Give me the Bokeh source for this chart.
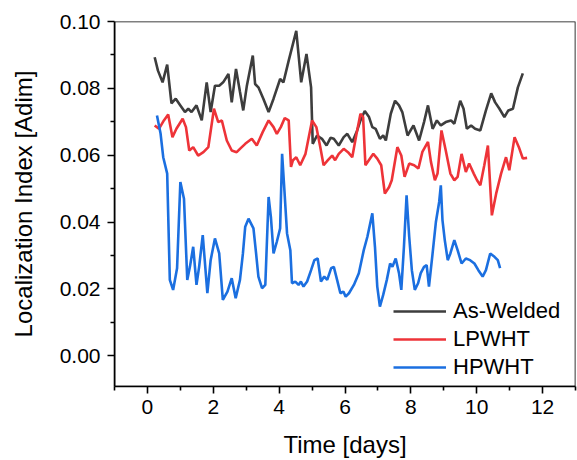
from bokeh.plotting import figure
from bokeh.models import NumeralTickFormatter, FixedTicker, Range1d, BoxAnnotation
from bokeh.embed import file_html
from bokeh.resources import INLINE

aw_t = [0.22, 0.32, 0.46, 0.60, 0.73, 0.86, 1.00, 1.14, 1.24, 1.34, 1.49, 1.65, 1.80, 1.92, 2.05, 2.18, 2.30, 2.46, 2.56, 2.69,
        2.81, 2.91, 3.02, 3.20, 3.27, 3.37, 3.52, 3.68, 3.83, 4.03, 4.13, 4.29, 4.52, 4.67, 4.83, 4.97, 5.02, 5.15, 5.30, 5.44,
        5.56, 5.66, 5.81, 5.96, 6.07, 6.22, 6.37, 6.47, 6.60, 6.73, 6.83, 6.93, 7.06, 7.16, 7.24, 7.39, 7.52, 7.64, 7.74, 7.90,
        8.08, 8.25, 8.40, 8.52, 8.66, 8.79, 8.91, 9.06, 9.22, 9.32, 9.50, 9.60, 9.70, 9.83, 9.95, 10.11, 10.28, 10.44, 10.56, 10.69,
        10.84, 10.96, 11.10, 11.25, 11.40]
aw_v = [0.0893, 0.0853, 0.0818, 0.0871, 0.0755, 0.0769, 0.0749, 0.0729, 0.0739, 0.0729, 0.0749, 0.0704, 0.0818, 0.0729, 0.0808, 0.0808, 0.0818, 0.0843, 0.0758, 0.0858,
        0.0790, 0.0734, 0.0808, 0.0898, 0.0813, 0.0803, 0.0769, 0.0729, 0.0769, 0.0828, 0.0818, 0.0883, 0.0972, 0.0818, 0.0903, 0.0803, 0.0634, 0.0659, 0.0649, 0.0629,
        0.0652, 0.0649, 0.0629, 0.0654, 0.0664, 0.0639, 0.0674, 0.0704, 0.0732, 0.0714, 0.0684, 0.0679, 0.0649, 0.0659, 0.0644, 0.0724, 0.0763, 0.0749, 0.0729, 0.0659,
        0.0689, 0.0644, 0.0699, 0.0749, 0.0679, 0.0704, 0.0689, 0.0699, 0.0704, 0.0694, 0.0763, 0.0739, 0.0679, 0.0689, 0.0679, 0.0674, 0.0734, 0.0785, 0.0758, 0.0739,
        0.0714, 0.0734, 0.0739, 0.0803, 0.0845]

lp_t = [0.22, 0.35, 0.50, 0.63, 0.76, 0.88, 1.07, 1.17, 1.27, 1.39, 1.54, 1.70, 1.85, 2.02, 2.15, 2.26, 2.41, 2.56, 2.71, 2.81,
        2.97, 3.17, 3.32, 3.50, 3.68, 3.83, 3.93, 4.05, 4.17, 4.29, 4.36, 4.42, 4.52, 4.64, 4.80, 5.00, 5.13, 5.25, 5.35, 5.48,
        5.61, 5.70, 5.81, 5.96, 6.09, 6.22, 6.35, 6.47, 6.55, 6.62, 6.76, 6.86, 6.98, 7.10, 7.21, 7.34, 7.42, 7.59, 7.71, 7.81,
        7.95, 8.10, 8.23, 8.35, 8.52, 8.61, 8.73, 8.81, 8.93, 9.06, 9.20, 9.32, 9.42, 9.54, 9.67, 9.77, 9.91, 10.01, 10.11, 10.23,
        10.34, 10.46, 10.59, 10.74, 10.89, 10.99, 11.15, 11.28, 11.40, 11.53]
lp_v = [0.0689, 0.0679, 0.0704, 0.0722, 0.0654, 0.0679, 0.0709, 0.0684, 0.0614, 0.0624, 0.0599, 0.0609, 0.0624, 0.0739, 0.0699, 0.0704, 0.0644, 0.0614, 0.0609, 0.0619,
        0.0634, 0.0649, 0.0629, 0.0669, 0.0704, 0.0684, 0.0664, 0.0684, 0.0711, 0.0704, 0.0565, 0.0585, 0.0594, 0.0570, 0.0604, 0.0704, 0.0684, 0.0624, 0.0570, 0.0585,
        0.0599, 0.0585, 0.0604, 0.0619, 0.0609, 0.0594, 0.0664, 0.0724, 0.0714, 0.0570, 0.0590, 0.0604, 0.0590, 0.0570, 0.0485, 0.0505, 0.0525, 0.0624, 0.0599, 0.0535,
        0.0575, 0.0570, 0.0560, 0.0610, 0.0640, 0.0580, 0.0525, 0.0545, 0.0674, 0.0614, 0.0545, 0.0525, 0.0535, 0.0604, 0.0550, 0.0575, 0.0545, 0.0525, 0.0510, 0.0570,
        0.0629, 0.0420, 0.0485, 0.0545, 0.0594, 0.0555, 0.0654, 0.0624, 0.0590, 0.0592]

hp_t = [0.29, 0.40, 0.48, 0.60, 0.68, 0.78, 0.90, 1.00, 1.11, 1.21, 1.29, 1.39, 1.49, 1.57, 1.68, 1.82, 1.92, 2.05, 2.18, 2.29,
        2.43, 2.56, 2.68, 2.81, 2.90, 2.97, 3.07, 3.22, 3.30, 3.37, 3.48, 3.58, 3.68, 3.75, 3.83, 3.93, 4.03, 4.09, 4.16, 4.24,
        4.34, 4.39, 4.49, 4.59, 4.66, 4.74, 4.85, 4.97, 5.07, 5.17, 5.27, 5.37, 5.46, 5.58, 5.66, 5.76, 5.86, 5.95, 6.02, 6.12,
        6.27, 6.42, 6.57, 6.68, 6.83, 6.91, 6.98, 7.06, 7.16, 7.27, 7.37, 7.44, 7.54, 7.64, 7.71, 7.79, 7.87, 7.95, 8.03, 8.12,
        8.22, 8.30, 8.40, 8.48, 8.55, 8.66, 8.76, 8.86, 8.91, 8.96, 9.03, 9.12, 9.20, 9.32, 9.42, 9.54, 9.67, 9.80, 9.93, 10.05,
        10.18, 10.28, 10.41, 10.54, 10.64, 10.71]
hp_v = [0.0719, 0.0664, 0.0594, 0.0545, 0.0227, 0.0197, 0.0262, 0.0520, 0.0470, 0.0227, 0.0266, 0.0326, 0.0212, 0.0266, 0.0361, 0.0187, 0.0286, 0.0351, 0.0306, 0.0167,
        0.0192, 0.0232, 0.0172, 0.0227, 0.0306, 0.0386, 0.0410, 0.0381, 0.0306, 0.0237, 0.0202, 0.0212, 0.0475, 0.0415, 0.0306, 0.0341, 0.0381, 0.0604, 0.0495, 0.0366,
        0.0316, 0.0217, 0.0222, 0.0212, 0.0222, 0.0207, 0.0222, 0.0256, 0.0286, 0.0291, 0.0222, 0.0237, 0.0227, 0.0262, 0.0266, 0.0227, 0.0187, 0.0192, 0.0177, 0.0187,
        0.0212, 0.0247, 0.0316, 0.0356, 0.0426, 0.0326, 0.0207, 0.0147, 0.0182, 0.0227, 0.0276, 0.0266, 0.0291, 0.0247, 0.0197, 0.0326, 0.0480, 0.0356, 0.0256, 0.0197,
        0.0217, 0.0247, 0.0266, 0.0271, 0.0207, 0.0306, 0.0400, 0.0460, 0.0510, 0.0406, 0.0346, 0.0286, 0.0306, 0.0346, 0.0316, 0.0276, 0.0291, 0.0286, 0.0276, 0.0256,
        0.0237, 0.0256, 0.0306, 0.0296, 0.0286, 0.0262]

x_ticks = [0, 2, 4, 6, 8, 10, 12]
y_ticks = [0.00, 0.02, 0.04, 0.06, 0.08, 0.10]
x_minor = [-1, 1, 3, 5, 7, 9, 11, 13]
y_minor = [0.01, 0.03, 0.05, 0.07, 0.09]

FONT = "Liberation Sans"

p = figure(width=577, height=460, output_backend="svg", toolbar_location=None,
           x_range=Range1d(-1, 13), y_range=Range1d(-0.0092, 0.1),
           min_border_left=114, min_border_right=2, min_border_top=21, min_border_bottom=73)

p.line(aw_t, aw_v, line_color="#3d3d3d", line_width=2.6, legend_label="As-Welded")
p.line(lp_t, lp_v, line_color="#EE3338", line_width=2.6, legend_label="LPWHT")
p.line(hp_t, hp_v, line_color="#1B6FE0", line_width=2.6, legend_label="HPWHT")

p.grid.visible = False
p.outline_line_color = None
p.add_layout(BoxAnnotation(fill_alpha=0, line_color="black", line_width=1.6, line_alpha=1.0))

p.xaxis.ticker = FixedTicker(ticks=x_ticks, minor_ticks=x_minor)
p.yaxis.ticker = FixedTicker(ticks=y_ticks, minor_ticks=y_minor)
p.yaxis.formatter = NumeralTickFormatter(format="0.00")

for ax in (p.xaxis[0], p.yaxis[0]):
    ax.axis_line_color = "black"
    ax.axis_line_width = 1.6
    ax.major_tick_line_color = "black"
    ax.major_tick_line_width = 1.6
    ax.minor_tick_line_color = "black"
    ax.minor_tick_line_width = 1.6
    ax.major_tick_out = 7
    ax.major_tick_in = 0
    ax.minor_tick_out = 4
    ax.minor_tick_in = 0
    ax.major_label_text_font = FONT
    ax.major_label_text_font_size = "21px"
    ax.major_label_text_color = "black"
    ax.axis_label_text_font = FONT
    ax.axis_label_text_font_size = "24px"
    ax.axis_label_text_font_style = "normal"
    ax.axis_label_text_color = "black"

p.xaxis.axis_label = "Time [days]"
p.yaxis.axis_label = "Localization Index [Adim]"
p.xaxis.major_label_standoff = 6
p.xaxis.axis_label_standoff = 14
p.yaxis.major_label_standoff = 7
p.yaxis.axis_label_standoff = 20

lg = p.legend[0]
lg.location = (279, 6)
lg.border_line_color = None
lg.background_fill_alpha = 0
lg.label_text_font = FONT
lg.label_text_font_size = "22px"
lg.label_text_color = "black"
lg.glyph_width = 53
lg.glyph_height = 20
lg.label_height = 20
lg.label_standoff = 7
lg.spacing = 2
lg.padding = 0
lg.margin = 0

open("out.html", "w").write(file_html(p, INLINE))
